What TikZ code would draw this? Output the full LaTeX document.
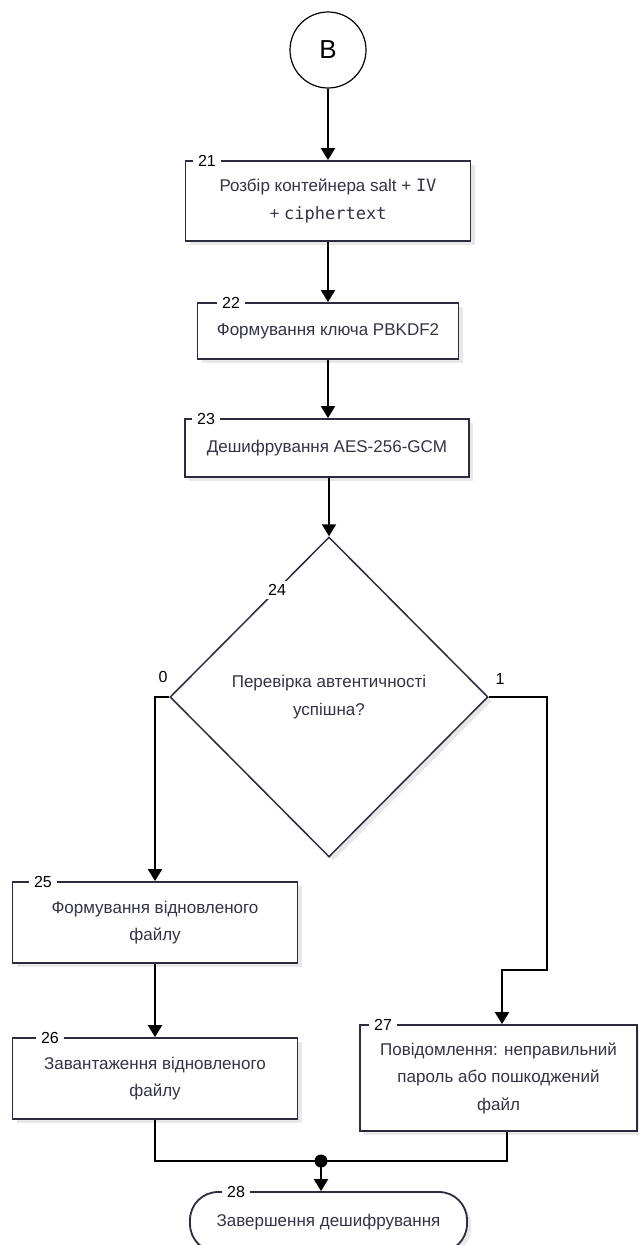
\documentclass[tikz,border=0pt]{standalone}
\usepackage{fontspec}
\setmainfont{Liberation Sans}
\newfontfamily\codefont{DejaVu Sans Mono}
\usetikzlibrary{arrows.meta,shapes.geometric,shadows}

\definecolor{boxline}{HTML}{2C2C40}
\definecolor{boxtext}{HTML}{333346}

\tikzset{
  stepbox/.style={draw=boxline, line width=1.8pt, fill=white, text=boxtext,
    align=center, inner sep=0pt, font=\fontsize{17}{27.5}\selectfont,
    drop shadow={shadow xshift=4pt, shadow yshift=-4pt, fill=black!9, opacity=1}},
  numtag/.style={fill=white, inner xsep=5pt, inner ysep=3pt, font=\fontsize{16}{16}\selectfont},
  flow/.style={line width=2pt, -{Triangle[width=14pt,length=12pt]}},
  link/.style={line width=2pt},
}

\begin{document}
\begin{tikzpicture}[x=1pt, y=-1pt]
  \useasboundingbox (0,0) rectangle (638,1245);

  % Connector B (Top Section)
  \node[circle, draw, line width=1.2pt, minimum size=76pt, inner sep=0pt,
    font=\fontsize{26}{26}\selectfont] (B) at (328,50) {B};

  % Container, key and decryption steps
  \node[stepbox, minimum width=285pt, minimum height=80pt] (parse) at (328,201)
    {Розбір контейнера salt + {\codefont IV}\\+ {\codefont ciphertext}};
  \node[stepbox, minimum width=261pt, minimum height=56pt] (key) at (328,331)
    {Формування ключа PBKDF2};
  \node[stepbox, minimum width=284pt, minimum height=58pt] (decrypt) at (327,448)
    {Дешифрування AES-256-GCM};

  % Authentication check (Decision)
  \node[stepbox, diamond, line width=1.5pt, minimum width=318pt, minimum height=320pt] (check) at (329,697)
    {Перевірка автентичності\\успішна?};

  % Results (Bottom Section)
  \node[stepbox, minimum width=285pt, minimum height=81pt] (restore) at (155,922.5)
    {Формування відновленого\\файлу};
  \node[stepbox, minimum width=285pt, minimum height=81pt] (save) at (155,1078.5)
    {Завантаження відновленого\\файлу};
  \node[stepbox, minimum width=277pt, minimum height=106pt] (notice) at (498.5,1078)
    {Повідомлення: неправильний\\пароль або пошкоджений\\файл};
  \node[stepbox, rounded corners=28pt, minimum width=277pt, minimum height=60pt] (finish) at (328.5,1222)
    {Завершення дешифрування};

  % Step numbers on the borders
  \node[numtag] (n21) at (207,161) {21};
  \node[numtag] (n22) at (231,303) {22};
  \node[numtag] (n23) at (206,419) {23};
  \node[numtag] (n24) at (277,590) {24};
  \node[numtag] (n25) at (43,882) {25};
  \node[numtag] (n26) at (50,1038) {26};
  \node[numtag] (n27) at (383,1025) {27};
  \node[numtag] (n28) at (236,1192) {28};

  % Branch values
  \node[font=\fontsize{16}{16}\selectfont] (zero) at (163,677) {0};
  \node[font=\fontsize{16}{16}\selectfont] (one) at (500,679) {1};

  % Connectors
  \coordinate (rturn) at (547,970);
  \coordinate (join) at (321,1161);
  \draw[flow] (B.south) -- (B.south |- parse.north);
  \draw[flow] (parse.south) -- (key.north);
  \draw[flow] (key.south) -- (key.south |- decrypt.north);
  \draw[flow] (check.north |- decrypt.south) -- (check.north);
  \draw[flow] (check.west) -| (restore.north);
  \draw[flow] (check.east) -| (rturn) -| ([xshift=3.5pt]notice.north);
  \draw[flow] (restore.south) -- (save.north);
  \draw[link] (save.south) |- (join) -| ([xshift=8.5pt]notice.south);
  \fill (join) circle (6.5pt);
  \draw[flow] (join) -- (join |- finish.north);

\end{tikzpicture}
\end{document}
